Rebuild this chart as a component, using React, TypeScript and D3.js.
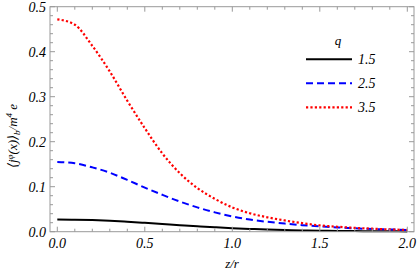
import React from "react";
import * as d3 from "d3";

const zGrid = [0, 0.1, 0.2, 0.3, 0.4, 0.5, 0.6, 0.7, 0.8, 0.9, 1.0, 1.1, 1.2, 1.3, 1.4, 1.5, 1.6, 1.7, 1.8, 1.9, 2.0];
const q15 = [0.027, 0.0267, 0.0258, 0.0243, 0.0222, 0.0198, 0.0172, 0.0146, 0.0121, 0.0098, 0.0078, 0.0062, 0.0048, 0.0038, 0.0029, 0.0023, 0.0018, 0.0014, 0.0011, 0.0009, 0.0007];
const q25 = [0.155, 0.152, 0.143, 0.131, 0.115, 0.098, 0.082, 0.067, 0.054, 0.043, 0.034, 0.027, 0.022, 0.018, 0.0145, 0.012, 0.0095, 0.0075, 0.006, 0.005, 0.004];
const q35 = [0.472, 0.46, 0.413, 0.356, 0.291, 0.23, 0.174, 0.13, 0.097, 0.073, 0.054, 0.041, 0.032, 0.025, 0.019, 0.014, 0.011, 0.0085, 0.0067, 0.005, 0.004];
const legendLabels = ["1.5", "2.5", "3.5"];
const xTicks = [0, 0.5, 1.0, 1.5, 2.0];
const yTicks = [0, 0.1, 0.2, 0.3, 0.4, 0.5];

const series = [
  { label: legendLabels[0], values: q15, color: "#000000", dash: "", width: 2 },
  { label: legendLabels[1], values: q25, color: "#0000ff", dash: "7,4", width: 2 },
  { label: legendLabels[2], values: q35, color: "#ff0000", dash: "2.2,2.2", width: 2.2 },
];

export default function App() {
  const W = 419, H = 275;
  const left = 50, right = 414, top = 6.7, bottom = 231.7;
  const x = d3.scaleLinear().domain([0, 2]).range([57.3, 407.3]);
  const xDomLeft = x.invert(left), xDomRight = x.invert(right);
  const xs = d3.scaleLinear().domain([xDomLeft, xDomRight]).range([left, right]);
  const y = d3.scaleLinear().domain([0, 0.5]).range([bottom, top]);
  const line = d3
    .line<number>()
    .x((_, i) => xs(zGrid[i]))
    .y((d) => y(d))
    .curve(d3.curveMonotoneX);

  const axisColor = "#999";
  const font = "Liberation Serif, DejaVu Serif, Times New Roman, serif";
  const xMinor = d3.range(0, 21).map((i) => i / 10);
  const yMinor = d3.range(0, 26).map((i) => i / 50);

  return (
    <svg width={W} height={H} style={{ position: "absolute", left: 0, top: 0, background: "#fff" }}>
      <rect x={0} y={0} width={W} height={H} fill="#fff" />
      <g>
        {series.map((s) => (
          <path
            key={s.label}
            d={line(s.values) || ""}
            fill="none"
            stroke={s.color}
            strokeWidth={s.width}
            strokeDasharray={s.dash}
          />
        ))}
      </g>
      <rect x={left} y={top} width={right - left} height={bottom - top} fill="none" stroke={axisColor} strokeWidth={1} />
      {xMinor.map((t, i) => {
        const major = i % 5 === 0;
        const len = major ? 5 : 3;
        const px = xs(t);
        return (
          <g key={"xt" + i}>
            <line x1={px} x2={px} y1={bottom} y2={bottom - len} stroke={axisColor} />
            <line x1={px} x2={px} y1={top} y2={top + len} stroke={axisColor} />
          </g>
        );
      })}
      {yMinor.map((t, i) => {
        const major = i % 5 === 0;
        const len = major ? 5 : 3;
        const py = y(t);
        return (
          <g key={"yt" + i}>
            <line x1={left} x2={left + len} y1={py} y2={py} stroke={axisColor} />
            <line x1={right} x2={right - len} y1={py} y2={py} stroke={axisColor} />
          </g>
        );
      })}
      {xTicks.map((t) => (
        <text key={"xl" + t} x={xs(t)} y={248} textAnchor="middle" style={{ fontFamily: font, fontStyle: "italic", fontSize: 14 }}>
          {t.toFixed(1)}
        </text>
      ))}
      {yTicks.map((t) => (
        <text key={"yl" + t} x={46} y={y(t) + 5} textAnchor="end" style={{ fontFamily: font, fontStyle: "italic", fontSize: 14 }}>
          {t.toFixed(1)}
        </text>
      ))}
      <text x={232} y={268} textAnchor="middle" style={{ fontFamily: font, fontStyle: "italic", fontSize: 13 }}>
        z/r
      </text>
      <text
        transform="translate(17,136) rotate(-90)"
        textAnchor="middle"
        style={{ fontFamily: font, fontStyle: "italic", fontSize: 13 }}
      >
        ⟨j<tspan dy={-4} fontSize={9}>φ</tspan>
        <tspan dy={4}>(x)⟩</tspan>
        <tspan dy={3} fontSize={9}>b</tspan>
        <tspan dy={-3}>/m</tspan>
        <tspan dy={-5} fontSize={9}>4</tspan>
        <tspan dy={5}> e</tspan>
      </text>
      <text x={338} y={45} textAnchor="middle" style={{ fontFamily: font, fontStyle: "italic", fontSize: 13 }}>
        q
      </text>
      {series.map((s, i) => {
        const ly = 59.3 + i * 24;
        return (
          <g key={"lg" + i}>
            <line x1={306} x2={352} y1={ly} y2={ly} stroke={s.color} strokeWidth={s.width} strokeDasharray={s.dash} />
            <text x={358} y={ly + 5} style={{ fontFamily: font, fontStyle: "italic", fontSize: 14 }}>
              {s.label}
            </text>
          </g>
        );
      })}
    </svg>
  );
}
